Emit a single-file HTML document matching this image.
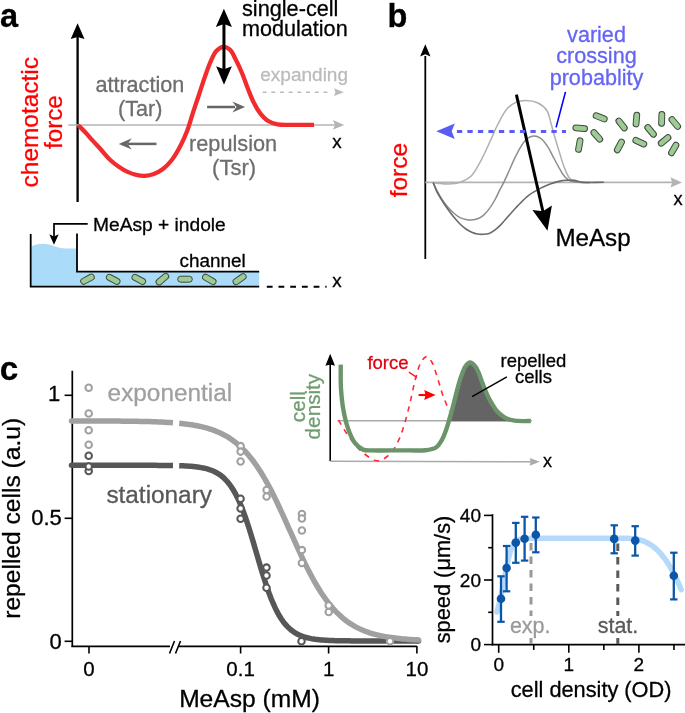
<!DOCTYPE html>
<html><head><meta charset="utf-8"><style>
html,body{margin:0;padding:0;background:#fff;width:685px;height:713px;overflow:hidden}
svg{display:block;will-change:transform}
text{font-family:"Liberation Sans", sans-serif}
</style></head><body>
<svg width="685" height="713" viewBox="0 0 685 713">
<text x="0" y="26.5" font-size="32.5" fill="#000" text-anchor="start" font-weight="bold" stroke="#000" stroke-width="0.3" stroke-linejoin="round">a</text>
<line x1="77.6" y1="202" x2="77.6" y2="36" stroke="#000" stroke-width="2.3"/>
<path d="M77.60,23.30 L84.50,39.10 L77.60,37.05 L70.70,39.10 Z" fill="#000"/>
<line x1="68.3" y1="125" x2="336" y2="125" stroke="#b4b4b4" stroke-width="1.6"/>
<path d="M344.20,124.90 L332.80,129.70 L335.08,124.90 L332.80,120.10 Z" fill="#b4b4b4"/>
<path d="M78.20,125.20 C80.63,127.63 83.13,129.98 85.50,132.50 C87.90,135.05 90.02,137.65 92.50,140.40 C95.25,143.46 98.38,146.78 101.30,150.00 C104.22,153.22 106.97,156.84 110.00,159.70 C112.82,162.36 115.79,164.63 118.80,166.70 C121.67,168.67 124.60,170.52 127.60,171.90 C130.44,173.21 133.35,174.25 136.30,174.90 C139.19,175.54 142.19,175.95 145.10,175.80 C148.02,175.65 150.96,175.03 153.80,174.00 C156.81,172.91 159.81,171.37 162.60,169.30 C165.71,166.99 168.66,163.95 171.40,160.50 C174.55,156.52 177.50,151.37 180.10,146.50 C182.74,141.55 185.01,136.43 187.10,131.00 C189.31,125.26 190.94,118.89 192.90,112.90 C194.84,106.96 196.84,101.11 198.80,95.20 C200.77,89.28 202.68,83.13 204.70,77.40 C206.61,71.98 208.46,66.39 210.60,61.70 C212.44,57.67 214.03,53.32 216.50,50.80 C218.48,48.79 221.10,47.02 223.40,46.90 C225.57,46.78 228.02,48.04 229.90,49.70 C232.29,51.80 233.80,55.89 235.70,59.50 C237.91,63.70 240.17,68.65 242.20,73.50 C244.32,78.57 246.07,84.23 248.10,89.30 C250.01,94.08 251.88,98.96 254.00,103.10 C255.85,106.72 257.58,109.94 259.90,112.90 C262.19,115.83 264.79,118.87 267.80,120.80 C270.71,122.66 273.88,123.69 277.60,124.40 C282.18,125.27 287.78,124.73 293.40,124.80 C299.83,124.88 307.20,124.80 314.10,124.80" fill="none" stroke="#f22b2e" stroke-width="4.3" stroke-linecap="butt" stroke-linejoin="round"/>
<text x="37.6" y="122.2" font-size="24.45" fill="#ff0000" text-anchor="middle" font-weight="normal" stroke="#ff0000" stroke-width="0.3" stroke-linejoin="round" transform="rotate(-90 37.6 122.2)">chemotactic</text>
<text x="62.2" y="122.1" font-size="24.2" fill="#ff0000" text-anchor="middle" font-weight="normal" stroke="#ff0000" stroke-width="0.3" stroke-linejoin="round" transform="rotate(-90 62.2 122.1)">force</text>
<text x="139.8" y="92" font-size="21.6" fill="#6e6e6e" text-anchor="middle" font-weight="normal" stroke="#6e6e6e" stroke-width="0.3" stroke-linejoin="round">attraction</text>
<text x="140.2" y="116.2" font-size="21.6" fill="#6e6e6e" text-anchor="middle" font-weight="normal" stroke="#6e6e6e" stroke-width="0.3" stroke-linejoin="round">(Tar)</text>
<text x="233.1" y="151.2" font-size="21.7" fill="#6e6e6e" text-anchor="middle" font-weight="normal" stroke="#6e6e6e" stroke-width="0.3" stroke-linejoin="round">repulsion</text>
<text x="234.1" y="175" font-size="22" fill="#6e6e6e" text-anchor="middle" font-weight="normal" stroke="#6e6e6e" stroke-width="0.3" stroke-linejoin="round">(Tsr)</text>
<line x1="156.5" y1="143.9" x2="128" y2="143.9" stroke="#666" stroke-width="2.5"/>
<path d="M118.80,143.90 L131.80,138.30 L127.51,143.90 L131.80,149.50 Z" fill="#666"/>
<line x1="207.1" y1="107" x2="235" y2="107" stroke="#666" stroke-width="2.5"/>
<path d="M245.10,107.00 L232.30,112.50 L236.52,107.00 L232.30,101.50 Z" fill="#666"/>
<line x1="223.95" y1="22" x2="223.95" y2="72" stroke="#000" stroke-width="3"/>
<path d="M223.90,8.80 L231.95,27.00 L223.90,23.91 L215.85,27.00 Z" fill="#000"/>
<path d="M224.00,84.70 L216.15,66.30 L224.00,69.24 L231.85,66.30 Z" fill="#000"/>
<text x="242" y="15.9" font-size="21.7" fill="#000" text-anchor="start" font-weight="normal" stroke="#000" stroke-width="0.3" stroke-linejoin="round">single-cell</text>
<text x="242" y="36.4" font-size="21.6" fill="#000" text-anchor="start" font-weight="normal" stroke="#000" stroke-width="0.3" stroke-linejoin="round">modulation</text>
<text x="260.3" y="80.6" font-size="19" fill="#bbb" text-anchor="start" font-weight="normal" stroke="#bbb" stroke-width="0.3" stroke-linejoin="round">expanding</text>
<line x1="262.6" y1="92.2" x2="328.5" y2="92.2" stroke="#bbb" stroke-width="1.6" stroke-dasharray="3.9 4.8"/>
<path d="M343.80,92.20 L334.00,96.10 L335.47,92.20 L334.00,88.30 Z" fill="#bbb"/>
<text x="332.3" y="147.8" font-size="18.8" fill="#000" text-anchor="start" font-weight="normal" stroke="#000" stroke-width="0.3" stroke-linejoin="round">x</text>
<path d="M31.5,246.5 C36,243.8 42,243 48,244.3 C54,245.8 58,248.2 66,248.5 L77,248.5 L77,272 L259.2,272 L259.2,286 L31.5,286 Z" fill="#aadcfa"/>
<path d="M30.7,234 L30.7,286.7 L259.2,286.7" fill="none" stroke="#000" stroke-width="1.8"/>
<path d="M77,233.6 L77,271.6 L259.2,271.6" fill="none" stroke="#000" stroke-width="1.8"/>
<path d="M87.7,223.8 L54,223.8 L54,237" fill="none" stroke="#000" stroke-width="1.7"/>
<path d="M54.00,244.80 L49.30,234.30 L54.00,236.61 L58.70,234.30 Z" fill="#000"/>
<text x="93" y="230.5" font-size="19.2" fill="#000" text-anchor="start" font-weight="normal" stroke="#000" stroke-width="0.3" stroke-linejoin="round">MeAsp + indole</text>
<text x="179.6" y="266.9" font-size="18.9" fill="#000" text-anchor="start" font-weight="normal" stroke="#000" stroke-width="0.3" stroke-linejoin="round">channel</text>
<rect x="80.20" y="276.20" width="14.60" height="6.00" rx="3.00" fill="#9ccb93" stroke="#404840" stroke-width="1" transform="rotate(-28 87.50 279.20)"/>
<rect x="105.90" y="276.40" width="14.60" height="6.00" rx="3.00" fill="#9ccb93" stroke="#404840" stroke-width="1" transform="rotate(28 113.20 279.40)"/>
<rect x="131.50" y="276.40" width="14.60" height="6.00" rx="3.00" fill="#9ccb93" stroke="#404840" stroke-width="1" transform="rotate(28 138.80 279.40)"/>
<rect x="155.10" y="276.20" width="14.60" height="6.00" rx="3.00" fill="#9ccb93" stroke="#404840" stroke-width="1" transform="rotate(-40 162.40 279.20)"/>
<rect x="177.70" y="276.20" width="14.60" height="6.00" rx="3.00" fill="#9ccb93" stroke="#404840" stroke-width="1" transform="rotate(0 185.00 279.20)"/>
<rect x="202.00" y="276.40" width="14.60" height="6.00" rx="3.00" fill="#9ccb93" stroke="#404840" stroke-width="1" transform="rotate(30 209.30 279.40)"/>
<rect x="232.30" y="276.20" width="14.60" height="6.00" rx="3.00" fill="#9ccb93" stroke="#404840" stroke-width="1" transform="rotate(-35 239.60 279.20)"/>
<line x1="266.8" y1="286.7" x2="326.6" y2="286.7" stroke="#000" stroke-width="1.9" stroke-dasharray="5.8 5.9"/>
<text x="332.3" y="287" font-size="18.8" fill="#000" text-anchor="start" font-weight="normal" stroke="#000" stroke-width="0.3" stroke-linejoin="round">x</text>
<text x="387.6" y="26.6" font-size="32.5" fill="#000" text-anchor="start" font-weight="bold" stroke="#000" stroke-width="0.3" stroke-linejoin="round">b</text>
<line x1="425.3" y1="259" x2="425.3" y2="56" stroke="#000" stroke-width="1.8"/>
<path d="M425.30,44.30 L430.50,56.50 L425.30,54.30 L420.10,56.50 Z" fill="#000"/>
<text x="407.5" y="170.1" font-size="24.5" fill="#ff0000" text-anchor="middle" font-weight="normal" stroke="#ff0000" stroke-width="0.3" stroke-linejoin="round" transform="rotate(-90 407.5 170.1)">force</text>
<line x1="425.3" y1="182.4" x2="673" y2="182.4" stroke="#b4b4b4" stroke-width="1.6"/>
<path d="M682.00,182.40 L670.40,187.50 L672.26,182.40 L670.40,177.30 Z" fill="#b4b4b4"/>
<path d="M433.20,182.60 C435.47,182.93 437.61,183.35 440.00,183.60 C442.65,183.87 445.77,184.12 448.40,184.10 C450.73,184.08 452.97,183.94 455.00,183.60 C456.80,183.30 458.29,182.90 460.00,182.30 C461.91,181.64 463.99,180.78 465.90,179.70 C467.90,178.57 469.79,177.61 471.70,175.60 C474.53,172.62 477.57,166.73 480.00,162.40 C482.22,158.44 483.89,154.71 485.80,150.70 C487.79,146.52 489.75,142.09 491.70,137.80 C493.65,133.53 495.18,129.46 497.50,125.00 C500.19,119.83 503.45,112.67 507.10,108.70 C509.93,105.62 513.13,103.46 516.40,102.10 C519.39,100.86 522.50,100.46 525.80,100.50 C529.49,100.55 534.01,101.14 537.50,102.80 C541.01,104.47 544.54,107.17 546.80,110.50 C549.25,114.11 549.86,119.55 551.20,124.00 C552.49,128.28 553.38,132.14 554.70,136.70 C556.25,142.08 558.39,149.01 560.00,154.20 C561.30,158.38 562.04,161.64 563.60,165.50 C565.35,169.82 567.13,176.02 570.20,178.80 C572.71,181.07 576.25,181.68 579.50,182.30 C582.84,182.94 586.50,182.43 590.00,182.50" fill="none" stroke="#b0b0b0" stroke-width="1.5"/>
<path d="M433.20,182.60 C434.37,185.13 435.31,187.54 436.70,190.20 C438.33,193.32 440.45,197.08 442.50,200.10 C444.37,202.87 446.37,205.40 448.40,207.70 C450.28,209.83 452.19,211.81 454.20,213.50 C456.07,215.08 457.98,216.61 460.00,217.60 C461.89,218.52 463.92,219.00 465.90,219.40 C467.82,219.79 469.77,220.09 471.70,220.00 C473.67,219.90 475.70,219.54 477.60,218.80 C479.61,218.02 481.57,216.81 483.40,215.30 C485.47,213.60 487.36,211.33 489.20,208.90 C491.29,206.15 493.33,202.67 495.10,199.50 C496.81,196.43 498.18,193.17 499.70,190.20 C501.11,187.42 502.46,185.14 503.90,182.20 C505.61,178.69 507.39,174.49 509.20,170.50 C511.09,166.33 512.99,161.78 515.00,157.70 C516.90,153.84 518.80,149.88 520.90,146.60 C522.73,143.74 524.40,140.77 526.70,139.00 C528.75,137.43 531.35,136.19 533.70,136.10 C536.02,136.01 538.55,136.96 540.70,138.40 C543.30,140.14 545.61,143.53 547.70,146.60 C549.95,149.91 551.58,153.96 553.60,157.70 C555.68,161.55 557.93,165.96 560.00,169.40 C561.71,172.24 563.12,175.02 565.00,177.00 C566.58,178.66 568.09,179.92 570.20,180.80 C572.75,181.86 576.30,182.01 579.50,182.30 C582.88,182.60 586.50,182.43 590.00,182.50" fill="none" stroke="#8c8c8c" stroke-width="1.5"/>
<path d="M433.20,182.60 C434.37,185.53 435.25,188.44 436.70,191.40 C438.29,194.66 440.50,198.14 442.50,201.30 C444.41,204.33 446.40,207.22 448.40,210.00 C450.31,212.65 452.22,215.21 454.20,217.60 C456.09,219.87 457.99,222.06 460.00,224.00 C461.90,225.84 463.87,227.60 465.90,229.00 C467.78,230.30 469.71,231.36 471.70,232.20 C473.62,233.01 475.62,233.65 477.60,234.00 C479.52,234.34 481.47,234.40 483.40,234.30 C485.34,234.20 487.32,234.07 489.20,233.40 C491.23,232.67 493.21,231.30 495.10,229.90 C497.12,228.40 499.17,226.35 500.90,224.60 C502.43,223.05 503.23,221.97 505.00,220.00 C508.19,216.43 514.20,209.41 518.50,205.00 C522.14,201.27 525.24,197.94 529.00,195.10 C532.65,192.34 536.95,190.03 540.70,188.10 C543.95,186.43 546.89,185.17 550.10,184.00 C553.32,182.83 557.09,181.72 560.00,181.10 C562.23,180.63 563.85,180.43 566.00,180.30 C568.47,180.15 571.29,180.11 574.00,180.40 C576.85,180.71 579.14,181.83 582.70,182.20 C588.21,182.78 596.90,182.27 604.00,182.30" fill="none" stroke="#6a6a6a" stroke-width="1.6"/>
<line x1="516.4" y1="94.7" x2="543.5" y2="214" stroke="#000" stroke-width="3"/>
<path d="M547.50,230.80 L532.41,210.08 L542.95,211.26 L551.89,205.55 Z" fill="#000"/>
<text x="555.4" y="245.7" font-size="24.2" fill="#000" text-anchor="start" font-weight="normal" stroke="#000" stroke-width="0.3" stroke-linejoin="round">MeAsp</text>
<text x="673.6" y="204.8" font-size="18.2" fill="#000" text-anchor="start" font-weight="normal" stroke="#000" stroke-width="0.3" stroke-linejoin="round">x</text>
<line x1="456.9" y1="131.4" x2="566" y2="131.4" stroke="#5b5bf5" stroke-width="3" stroke-dasharray="5.3 5.2"/>
<path d="M436.30,131.20 L454.80,123.45 L451.66,131.20 L454.80,138.95 Z" fill="#5b5bf5"/>
<line x1="565.5" y1="91.9" x2="556.1" y2="127.4" stroke="#0000ff" stroke-width="1.6"/>
<text x="596.5" y="42.4" font-size="21.6" fill="#6464f5" text-anchor="middle" font-weight="normal" stroke="#6464f5" stroke-width="0.3" stroke-linejoin="round">varied</text>
<text x="596.5" y="63.4" font-size="21.6" fill="#6464f5" text-anchor="middle" font-weight="normal" stroke="#6464f5" stroke-width="0.3" stroke-linejoin="round">crossing</text>
<text x="596.5" y="84.8" font-size="21.6" fill="#6464f5" text-anchor="middle" font-weight="normal" stroke="#6464f5" stroke-width="0.3" stroke-linejoin="round">probablity</text>
<rect x="572.90" y="125.30" width="14.60" height="5.80" rx="2.90" fill="#9ccb93" stroke="#404840" stroke-width="1" transform="rotate(5 580.20 128.20)"/>
<rect x="592.90" y="114.40" width="14.60" height="5.80" rx="2.90" fill="#9ccb93" stroke="#404840" stroke-width="1" transform="rotate(22 600.20 117.30)"/>
<rect x="589.50" y="133.00" width="14.60" height="5.80" rx="2.90" fill="#9ccb93" stroke="#404840" stroke-width="1" transform="rotate(48 596.80 135.90)"/>
<rect x="572.00" y="142.20" width="14.60" height="5.80" rx="2.90" fill="#9ccb93" stroke="#404840" stroke-width="1" transform="rotate(-80 579.30 145.10)"/>
<rect x="614.30" y="121.60" width="14.60" height="5.80" rx="2.90" fill="#9ccb93" stroke="#404840" stroke-width="1" transform="rotate(52 621.60 124.50)"/>
<rect x="629.10" y="116.70" width="14.60" height="5.80" rx="2.90" fill="#9ccb93" stroke="#404840" stroke-width="1" transform="rotate(-85 636.40 119.60)"/>
<rect x="612.10" y="143.10" width="14.60" height="5.80" rx="2.90" fill="#9ccb93" stroke="#404840" stroke-width="1" transform="rotate(-62 619.40 146.00)"/>
<rect x="632.50" y="139.30" width="14.60" height="5.80" rx="2.90" fill="#9ccb93" stroke="#404840" stroke-width="1" transform="rotate(25 639.80 142.20)"/>
<rect x="643.30" y="128.00" width="14.60" height="5.80" rx="2.90" fill="#9ccb93" stroke="#404840" stroke-width="1" transform="rotate(50 650.60 130.90)"/>
<rect x="654.40" y="116.00" width="14.60" height="5.80" rx="2.90" fill="#9ccb93" stroke="#404840" stroke-width="1" transform="rotate(-88 661.70 118.90)"/>
<rect x="667.50" y="120.10" width="14.60" height="5.80" rx="2.90" fill="#9ccb93" stroke="#404840" stroke-width="1" transform="rotate(50 674.80 123.00)"/>
<rect x="657.30" y="137.50" width="14.60" height="5.80" rx="2.90" fill="#9ccb93" stroke="#404840" stroke-width="1" transform="rotate(-40 664.60 140.40)"/>
<rect x="666.40" y="146.10" width="14.60" height="5.80" rx="2.90" fill="#9ccb93" stroke="#404840" stroke-width="1" transform="rotate(-60 673.70 149.00)"/>
<text x="-0.3" y="379.9" font-size="33.3" fill="#000" text-anchor="start" font-weight="bold" stroke="#000" stroke-width="0.3" stroke-linejoin="round">c</text>
<line x1="72.3" y1="370.8" x2="72.3" y2="647.1" stroke="#000" stroke-width="1.7"/>
<line x1="71.5" y1="646.3" x2="170" y2="646.3" stroke="#000" stroke-width="1.7"/>
<line x1="179" y1="646.3" x2="416.9" y2="646.3" stroke="#000" stroke-width="1.7"/>
<line x1="169.5" y1="653.5" x2="174.5" y2="641" stroke="#000" stroke-width="1.6"/>
<line x1="175.5" y1="653.5" x2="180.5" y2="641" stroke="#000" stroke-width="1.6"/>
<line x1="64.6" y1="395.3" x2="72.3" y2="395.3" stroke="#000" stroke-width="1.6"/>
<text x="60.2" y="400.7" font-size="22" fill="#000" text-anchor="end" font-weight="normal" stroke="#000" stroke-width="0.3" stroke-linejoin="round">1</text>
<line x1="64.6" y1="518.3" x2="72.3" y2="518.3" stroke="#000" stroke-width="1.6"/>
<text x="61.8" y="525" font-size="22" fill="#000" text-anchor="end" font-weight="normal" stroke="#000" stroke-width="0.3" stroke-linejoin="round">0.5</text>
<line x1="64.6" y1="641.3" x2="72.3" y2="641.3" stroke="#000" stroke-width="1.6"/>
<text x="61.8" y="648.5" font-size="22" fill="#000" text-anchor="end" font-weight="normal" stroke="#000" stroke-width="0.3" stroke-linejoin="round">0</text>
<line x1="89" y1="646" x2="89" y2="653.5" stroke="#000" stroke-width="1.6"/>
<text x="89" y="676.3" font-size="20.5" fill="#000" text-anchor="middle" font-weight="normal" stroke="#000" stroke-width="0.3" stroke-linejoin="round">0</text>
<line x1="240.6" y1="646" x2="240.6" y2="653.5" stroke="#000" stroke-width="1.6"/>
<text x="240.6" y="676.3" font-size="20.5" fill="#000" text-anchor="middle" font-weight="normal" stroke="#000" stroke-width="0.3" stroke-linejoin="round">0.1</text>
<line x1="328.6" y1="646" x2="328.6" y2="653.5" stroke="#000" stroke-width="1.6"/>
<text x="328.6" y="676.3" font-size="20.5" fill="#000" text-anchor="middle" font-weight="normal" stroke="#000" stroke-width="0.3" stroke-linejoin="round">1</text>
<line x1="416.9" y1="646" x2="416.9" y2="653.5" stroke="#000" stroke-width="1.6"/>
<text x="416.9" y="676.3" font-size="20.5" fill="#000" text-anchor="middle" font-weight="normal" stroke="#000" stroke-width="0.3" stroke-linejoin="round">10</text>
<text x="249.5" y="706.9" font-size="24.6" fill="#000" text-anchor="middle" font-weight="normal" stroke="#000" stroke-width="0.3" stroke-linejoin="round">MeAsp (mM)</text>
<text x="20.2" y="518.3" font-size="24.6" fill="#000" text-anchor="middle" font-weight="normal" stroke="#000" stroke-width="0.3" stroke-linejoin="round" transform="rotate(-90 20.2 518.3)">repelled cells (a.u)</text>
<path d="M179.20,465.72 L181.20,465.79 L183.20,465.87 L185.20,465.97 L187.20,466.08 L189.20,466.21 L191.20,466.36 L193.20,466.54 L195.20,466.75 L197.20,466.99 L199.20,467.28 L201.20,467.61 L203.20,467.99 L205.20,468.44 L207.20,468.96 L209.20,469.56 L211.20,470.26 L213.20,471.07 L215.20,472.01 L217.20,473.09 L219.20,474.34 L221.20,475.78 L223.20,477.43 L225.20,479.32 L227.20,481.47 L229.20,483.92 L231.20,486.68 L233.20,489.79 L235.20,493.27 L237.20,497.15 L239.20,501.43 L241.20,506.12 L243.20,511.22 L245.20,516.71 L247.20,522.57 L249.20,528.76 L251.20,535.22 L253.20,541.89 L255.20,548.69 L257.20,555.55 L259.20,562.38 L261.20,569.10 L263.20,575.63 L265.20,581.91 L267.20,587.87 L269.20,593.48 L271.20,598.70 L273.20,603.51 L275.20,607.91 L277.20,611.91 L279.20,615.50 L281.20,618.72 L283.20,621.59 L285.20,624.13 L287.20,626.37 L289.20,628.33 L291.20,630.05 L293.20,631.55 L295.20,632.85 L297.20,633.98 L299.20,634.96 L301.20,635.81 L303.20,636.54 L305.20,637.17 L307.20,637.72 L309.20,638.18 L311.20,638.59 L313.20,638.93 L315.20,639.23 L317.20,639.48 L319.20,639.70 L321.20,639.89 L323.20,640.05 L325.20,640.18 L327.20,640.30 L329.20,640.40 L331.20,640.49 L333.20,640.56 L335.20,640.63 L337.20,640.68 L339.20,640.73 L341.20,640.77 L343.20,640.80 L345.20,640.83 L347.20,640.85 L349.20,640.87 L351.20,640.89 L353.20,640.91 L355.20,640.92 L357.20,640.93 L359.20,640.94 L361.20,640.95 L363.20,640.96 L365.20,640.96 L367.20,640.97 L369.20,640.97 L371.20,640.98 L373.20,640.98 L375.20,640.98 L377.20,640.99 L379.20,640.99 L381.20,640.99 L383.20,640.99 L385.20,640.99 L387.20,640.99 L389.20,640.99 L391.20,641.00 L393.20,641.00 L395.20,641.00 L397.20,641.00 L399.20,641.00 L401.20,641.00 L403.20,641.00 L405.20,641.00 L407.20,641.00 L409.20,641.00 L411.20,641.00 L413.20,641.00 L415.20,641.00 L417.20,641.00 L418.50,641.00" fill="none" stroke="#575757" stroke-width="5.5" stroke-linecap="butt"/>
<circle cx="418.50" cy="641.00" r="2.75" fill="#575757"/>
<path d="M71.50,465.30 L74.50,465.30 L77.50,465.30 L80.50,465.30 L83.50,465.30 L86.50,465.30 L89.50,465.30 L92.50,465.30 L95.50,465.30 L98.50,465.30 L101.50,465.30 L104.50,465.30 L107.50,465.30 L110.50,465.30 L113.50,465.30 L116.50,465.30 L119.50,465.30 L122.50,465.30 L125.50,465.31 L128.50,465.31 L131.50,465.31 L134.50,465.31 L137.50,465.32 L140.50,465.32 L143.50,465.33 L146.50,465.33 L149.50,465.34 L152.50,465.35 L155.50,465.37 L158.50,465.38 L161.50,465.41 L164.50,465.43 L167.50,465.47 L170.50,465.51 L173.00,465.56" fill="none" stroke="#575757" stroke-width="5.5" stroke-linecap="butt"/>
<circle cx="71.5" cy="465.30" r="2.75" fill="#575757"/>
<path d="M179.20,423.29 L181.20,423.49 L183.20,423.70 L185.20,423.94 L187.20,424.19 L189.20,424.47 L191.20,424.77 L193.20,425.09 L195.20,425.43 L197.20,425.81 L199.20,426.22 L201.20,426.66 L203.20,427.13 L205.20,427.64 L207.20,428.20 L209.20,428.79 L211.20,429.44 L213.20,430.13 L215.20,430.88 L217.20,431.68 L219.20,432.55 L221.20,433.48 L223.20,434.48 L225.20,435.55 L227.20,436.71 L229.20,437.94 L231.20,439.27 L233.20,440.69 L235.20,442.20 L237.20,443.82 L239.20,445.55 L241.20,447.38 L243.20,449.34 L245.20,451.42 L247.20,453.62 L249.20,455.95 L251.20,458.42 L253.20,461.02 L255.20,463.76 L257.20,466.64 L259.20,469.66 L261.20,472.82 L263.20,476.12 L265.20,479.56 L267.20,483.13 L269.20,486.82 L271.20,490.64 L273.20,494.58 L275.20,498.62 L277.20,502.76 L279.20,506.99 L281.20,511.30 L283.20,515.66 L285.20,520.08 L287.20,524.53 L289.20,529.01 L291.20,533.49 L293.20,537.96 L295.20,542.41 L297.20,546.82 L299.20,551.18 L301.20,555.48 L303.20,559.70 L305.20,563.83 L307.20,567.86 L309.20,571.78 L311.20,575.59 L313.20,579.27 L315.20,582.83 L317.20,586.25 L319.20,589.53 L321.20,592.68 L323.20,595.68 L325.20,598.54 L327.20,601.27 L329.20,603.86 L331.20,606.31 L333.20,608.63 L335.20,610.82 L337.20,612.88 L339.20,614.82 L341.20,616.65 L343.20,618.36 L345.20,619.97 L347.20,621.47 L349.20,622.88 L351.20,624.20 L353.20,625.42 L355.20,626.57 L357.20,627.64 L359.20,628.63 L361.20,629.55 L363.20,630.41 L365.20,631.21 L367.20,631.95 L369.20,632.64 L371.20,633.28 L373.20,633.87 L375.20,634.42 L377.20,634.92 L379.20,635.39 L381.20,635.83 L383.20,636.23 L385.20,636.61 L387.20,636.95 L389.20,637.27 L391.20,637.56 L393.20,637.84 L395.20,638.09 L397.20,638.32 L399.20,638.53 L401.20,638.73 L403.20,638.92 L405.20,639.09 L407.20,639.24 L409.20,639.39 L411.20,639.52 L413.20,639.64 L415.20,639.75 L417.20,639.86 L418.50,639.92" fill="none" stroke="#a0a0a0" stroke-width="5.5" stroke-linecap="butt"/>
<circle cx="418.50" cy="639.92" r="2.75" fill="#a0a0a0"/>
<path d="M71.50,420.93 L74.50,420.93 L77.50,420.94 L80.50,420.94 L83.50,420.95 L86.50,420.96 L89.50,420.96 L92.50,420.97 L95.50,420.98 L98.50,420.99 L101.50,421.00 L104.50,421.02 L107.50,421.03 L110.50,421.05 L113.50,421.07 L116.50,421.09 L119.50,421.11 L122.50,421.14 L125.50,421.17 L128.50,421.21 L131.50,421.25 L134.50,421.29 L137.50,421.34 L140.50,421.40 L143.50,421.46 L146.50,421.54 L149.50,421.62 L152.50,421.71 L155.50,421.82 L158.50,421.93 L161.50,422.07 L164.50,422.22 L167.50,422.39 L170.50,422.58 L173.00,422.76" fill="none" stroke="#a0a0a0" stroke-width="5.5" stroke-linecap="butt"/>
<circle cx="71.5" cy="420.93" r="2.75" fill="#a0a0a0"/>
<text x="107.6" y="401.3" font-size="24.35" fill="#a0a0a0" text-anchor="start" font-weight="normal" stroke="#a0a0a0" stroke-width="0.3" stroke-linejoin="round">exponential</text>
<text x="106.4" y="502.5" font-size="24.35" fill="#575757" text-anchor="start" font-weight="normal" stroke="#575757" stroke-width="0.3" stroke-linejoin="round">stationary</text>
<circle cx="88.70" cy="455.80" r="3.25" fill="#fff" stroke="#575757" stroke-width="2.05"/>
<circle cx="88.70" cy="470.90" r="3.25" fill="#fff" stroke="#575757" stroke-width="2.05"/>
<circle cx="88.70" cy="466.50" r="3.25" fill="#fff" stroke="#575757" stroke-width="2.05"/>
<circle cx="240.60" cy="498.70" r="3.25" fill="#fff" stroke="#575757" stroke-width="2.05"/>
<circle cx="240.60" cy="508.50" r="3.25" fill="#fff" stroke="#575757" stroke-width="2.05"/>
<circle cx="240.60" cy="518.80" r="3.25" fill="#fff" stroke="#575757" stroke-width="2.05"/>
<circle cx="266.50" cy="567.60" r="3.25" fill="#fff" stroke="#575757" stroke-width="2.05"/>
<circle cx="266.50" cy="575.50" r="3.25" fill="#fff" stroke="#575757" stroke-width="2.05"/>
<circle cx="266.50" cy="587.70" r="3.25" fill="#fff" stroke="#575757" stroke-width="2.05"/>
<circle cx="301.50" cy="641.20" r="3.25" fill="#fff" stroke="#575757" stroke-width="2.05"/>
<circle cx="88.70" cy="387.70" r="3.25" fill="#fff" stroke="#a0a0a0" stroke-width="2.05"/>
<circle cx="88.70" cy="413.40" r="3.25" fill="#fff" stroke="#a0a0a0" stroke-width="2.05"/>
<circle cx="88.70" cy="430.30" r="3.25" fill="#fff" stroke="#a0a0a0" stroke-width="2.05"/>
<circle cx="88.70" cy="444.80" r="3.25" fill="#fff" stroke="#a0a0a0" stroke-width="2.05"/>
<circle cx="240.60" cy="446.10" r="3.25" fill="#fff" stroke="#a0a0a0" stroke-width="2.05"/>
<circle cx="240.60" cy="451.60" r="3.25" fill="#fff" stroke="#a0a0a0" stroke-width="2.05"/>
<circle cx="240.60" cy="461.50" r="3.25" fill="#fff" stroke="#a0a0a0" stroke-width="2.05"/>
<circle cx="266.60" cy="489.90" r="3.25" fill="#fff" stroke="#a0a0a0" stroke-width="2.05"/>
<circle cx="266.60" cy="496.50" r="3.25" fill="#fff" stroke="#a0a0a0" stroke-width="2.05"/>
<circle cx="301.90" cy="514.00" r="3.25" fill="#fff" stroke="#a0a0a0" stroke-width="2.05"/>
<circle cx="301.90" cy="518.40" r="3.25" fill="#fff" stroke="#a0a0a0" stroke-width="2.05"/>
<circle cx="301.90" cy="530.50" r="3.25" fill="#fff" stroke="#a0a0a0" stroke-width="2.05"/>
<circle cx="301.90" cy="550.10" r="3.25" fill="#fff" stroke="#a0a0a0" stroke-width="2.05"/>
<circle cx="301.90" cy="562.90" r="3.25" fill="#fff" stroke="#a0a0a0" stroke-width="2.05"/>
<circle cx="328.70" cy="605.50" r="3.25" fill="#fff" stroke="#a0a0a0" stroke-width="2.05"/>
<circle cx="328.70" cy="612.00" r="3.25" fill="#fff" stroke="#a0a0a0" stroke-width="2.05"/>
<circle cx="390.00" cy="641.20" r="3.25" fill="#fff" stroke="#a0a0a0" stroke-width="2.05"/>
<line x1="330.2" y1="461.1" x2="330.2" y2="364" stroke="#000" stroke-width="1.6"/>
<path d="M330.20,353.80 L335.00,365.80 L330.20,364.60 L325.40,365.80 Z" fill="#000"/>
<line x1="330.2" y1="461.3" x2="531" y2="461.8" stroke="#aaa" stroke-width="1.5"/>
<path d="M539.70,461.80 L529.70,465.70 L530.70,461.80 L529.70,457.90 Z" fill="#aaa"/>
<text x="543" y="466.5" font-size="18" fill="#000" text-anchor="start" font-weight="normal" stroke="#000" stroke-width="0.3" stroke-linejoin="round">x</text>
<line x1="337.5" y1="420.8" x2="532" y2="420.8" stroke="#aaa" stroke-width="1.5"/>
<path d="M449.00,421.20 C449.10,420.63 449.11,420.32 449.30,419.50 C449.82,417.24 451.69,411.42 452.90,406.90 C454.29,401.69 455.63,395.35 457.10,390.00 C458.44,385.10 459.77,380.21 461.30,376.00 C462.61,372.40 463.74,368.55 465.50,366.20 C466.80,364.46 468.41,362.54 470.00,362.50 C471.73,362.46 474.05,364.88 475.50,366.60 C476.97,368.34 477.71,370.61 478.70,372.90 C479.83,375.49 480.75,378.59 481.80,381.40 C482.85,384.19 483.91,387.02 485.00,389.70 C486.04,392.25 486.99,394.67 488.20,397.10 C489.45,399.60 490.96,402.16 492.40,404.50 C493.76,406.71 495.00,408.94 496.60,410.80 C498.14,412.59 499.99,414.16 501.80,415.50 C503.50,416.76 505.12,417.87 507.10,418.70 C509.30,419.62 512.98,420.10 514.50,420.60 C515.20,420.83 515.50,421.00 516.00,421.20 Z" fill="#646464"/>
<path d="M338.40,420.10 C342.20,426.07 345.70,432.54 349.80,438.00 C353.64,443.11 357.37,448.18 362.10,452.00 C366.76,455.76 372.97,460.82 377.90,460.80 C382.26,460.78 386.78,457.10 390.20,453.80 C393.90,450.23 396.40,445.03 398.90,439.70 C401.80,433.54 403.94,425.75 406.00,418.70 C408.04,411.72 409.57,404.48 411.20,397.60 C412.76,391.03 413.89,384.37 415.60,378.30 C417.17,372.73 418.60,366.32 420.90,362.50 C422.51,359.83 424.65,356.62 426.50,356.60 C428.28,356.59 430.32,359.68 431.80,362.00 C433.66,364.91 434.71,369.45 436.00,373.20 C437.28,376.92 438.34,380.66 439.50,384.40 C440.67,388.16 441.56,391.68 443.00,395.70 C444.71,400.47 447.20,405.97 449.30,411.10" fill="none" stroke="#ff2a35" stroke-width="1.6" stroke-dasharray="5.4 5.4"/>
<path d="M340.70,364.60 C340.80,372.70 340.48,380.94 341.00,388.90 C341.50,396.63 342.30,404.46 343.70,411.70 C345.00,418.45 346.75,425.40 348.90,431.00 C350.68,435.64 352.50,439.99 355.10,443.20 C357.34,445.97 360.08,448.42 363.00,449.60 C365.75,450.71 368.48,450.24 372.00,450.40 C376.97,450.62 383.84,450.40 390.00,450.40 C396.49,450.40 403.81,450.42 410.00,450.40 C415.36,450.38 420.42,450.89 425.00,450.30 C428.98,449.79 433.16,449.33 436.00,447.50 C438.52,445.87 440.01,443.15 441.60,440.50 C443.33,437.61 444.54,434.11 445.80,430.70 C447.12,427.12 448.15,423.35 449.30,419.50 C450.52,415.43 451.69,411.42 452.90,406.90 C454.29,401.69 455.63,395.35 457.10,390.00 C458.44,385.10 459.77,380.21 461.30,376.00 C462.61,372.40 463.74,368.55 465.50,366.20 C466.80,364.46 468.41,362.54 470.00,362.50 C471.73,362.46 474.05,364.88 475.50,366.60 C476.97,368.34 477.71,370.61 478.70,372.90 C479.83,375.49 480.75,378.59 481.80,381.40 C482.85,384.19 483.91,387.02 485.00,389.70 C486.04,392.25 486.99,394.67 488.20,397.10 C489.45,399.60 490.96,402.16 492.40,404.50 C493.76,406.71 495.00,408.94 496.60,410.80 C498.14,412.59 499.99,414.16 501.80,415.50 C503.50,416.76 505.12,417.87 507.10,418.70 C509.30,419.62 511.94,420.20 514.50,420.60 C517.19,421.02 520.14,421.04 522.90,421.10 C525.57,421.16 528.17,421.03 530.80,421.00" fill="none" stroke="#6b946b" stroke-width="4.4" stroke-linejoin="round"/>
<text x="388" y="369.4" font-size="18.5" fill="#e00012" text-anchor="middle" font-weight="normal" stroke="#e00012" stroke-width="0.3" stroke-linejoin="round">force</text>
<line x1="408.9" y1="372.2" x2="417" y2="377.6" stroke="#ff1f2a" stroke-width="1.5"/>
<line x1="418.6" y1="395" x2="427" y2="395" stroke="#f00" stroke-width="2.1"/>
<path d="M435.60,394.90 L424.20,399.90 L425.57,394.90 L424.20,389.90 Z" fill="#f00"/>
<line x1="472.1" y1="396.6" x2="506.9" y2="376.9" stroke="#000" stroke-width="1.5"/>
<text x="533.4" y="367.3" font-size="18.5" fill="#000" text-anchor="middle" font-weight="normal" stroke="#000" stroke-width="0.3" stroke-linejoin="round">repelled</text>
<text x="533.4" y="382.7" font-size="18.5" fill="#000" text-anchor="middle" font-weight="normal" stroke="#000" stroke-width="0.3" stroke-linejoin="round">cells</text>
<text x="304.8" y="406.6" font-size="20.7" fill="#6f9d6f" text-anchor="middle" font-weight="normal" stroke="#6f9d6f" stroke-width="0.3" stroke-linejoin="round" transform="rotate(-90 304.8 406.6)">cell</text>
<text x="320" y="406.6" font-size="20.7" fill="#6f9d6f" text-anchor="middle" font-weight="normal" stroke="#6f9d6f" stroke-width="0.3" stroke-linejoin="round" transform="rotate(-90 320 406.6)">density</text>
<line x1="492.5" y1="514.2" x2="492.5" y2="645.4" stroke="#000" stroke-width="1.7"/>
<line x1="491.7" y1="644.6" x2="685" y2="644.6" stroke="#000" stroke-width="1.7"/>
<line x1="484" y1="644.60" x2="492.5" y2="644.60" stroke="#000" stroke-width="1.6"/>
<text x="481" y="651.4" font-size="19" fill="#000" text-anchor="end" font-weight="normal" stroke="#000" stroke-width="0.3" stroke-linejoin="round">0</text>
<line x1="484" y1="580.00" x2="492.5" y2="580.00" stroke="#000" stroke-width="1.6"/>
<text x="481" y="586.8" font-size="19" fill="#000" text-anchor="end" font-weight="normal" stroke="#000" stroke-width="0.3" stroke-linejoin="round">20</text>
<line x1="484" y1="515.40" x2="492.5" y2="515.40" stroke="#000" stroke-width="1.6"/>
<text x="481" y="522.2" font-size="19" fill="#000" text-anchor="end" font-weight="normal" stroke="#000" stroke-width="0.3" stroke-linejoin="round">40</text>
<line x1="488.2" y1="612.30" x2="492.5" y2="612.30" stroke="#000" stroke-width="1.6"/>
<line x1="488.2" y1="547.70" x2="492.5" y2="547.70" stroke="#000" stroke-width="1.6"/>
<line x1="498.70" y1="644.6" x2="498.70" y2="652.8" stroke="#000" stroke-width="1.6"/>
<text x="498.7" y="670.6" font-size="19" fill="#000" text-anchor="middle" font-weight="normal" stroke="#000" stroke-width="0.3" stroke-linejoin="round">0</text>
<line x1="568.80" y1="644.6" x2="568.80" y2="652.8" stroke="#000" stroke-width="1.6"/>
<text x="568.8" y="670.6" font-size="19" fill="#000" text-anchor="middle" font-weight="normal" stroke="#000" stroke-width="0.3" stroke-linejoin="round">1</text>
<line x1="638.90" y1="644.6" x2="638.90" y2="652.8" stroke="#000" stroke-width="1.6"/>
<text x="638.9" y="670.6" font-size="19" fill="#000" text-anchor="middle" font-weight="normal" stroke="#000" stroke-width="0.3" stroke-linejoin="round">2</text>
<line x1="533.75" y1="644.6" x2="533.75" y2="649.9" stroke="#000" stroke-width="1.6"/>
<line x1="603.85" y1="644.6" x2="603.85" y2="649.9" stroke="#000" stroke-width="1.6"/>
<line x1="673.95" y1="644.6" x2="673.95" y2="649.9" stroke="#000" stroke-width="1.6"/>
<text x="591.1" y="696.8" font-size="21.75" fill="#000" text-anchor="middle" font-weight="normal" stroke="#000" stroke-width="0.3" stroke-linejoin="round">cell density (OD)</text>
<text x="450.2" y="579.5" font-size="21.8" fill="#000" text-anchor="middle" font-weight="normal" stroke="#000" stroke-width="0.3" stroke-linejoin="round" transform="rotate(-90 450.2 579.5)">speed (μm/s)</text>
<line x1="531" y1="543" x2="531" y2="644" stroke="#999" stroke-width="3" stroke-dasharray="7.5 6"/>
<line x1="617.8" y1="543.4" x2="617.8" y2="644" stroke="#5a5a5a" stroke-width="3" stroke-dasharray="7.5 6"/>
<rect x="509" y="616" width="43" height="22" fill="#fff"/>
<rect x="597" y="616" width="43" height="22" fill="#fff"/>
<text x="530.2" y="632.5" font-size="21.5" fill="#9a9a9a" text-anchor="middle" font-weight="normal" stroke="#9a9a9a" stroke-width="0.3" stroke-linejoin="round">exp.</text>
<text x="618" y="632.5" font-size="21.5" fill="#5a5a5a" text-anchor="middle" font-weight="normal" stroke="#5a5a5a" stroke-width="0.3" stroke-linejoin="round">stat.</text>
<path d="M497.00,612.00 C498.33,606.67 499.82,601.31 501.00,596.00 C502.15,590.81 502.98,585.64 504.00,580.50 C505.01,575.41 506.02,570.24 507.10,565.30 C508.13,560.58 508.98,555.49 510.30,551.50 C511.37,548.27 512.31,545.06 514.00,543.00 C515.37,541.33 517.03,540.27 519.00,539.50 C521.27,538.61 524.33,538.62 527.00,538.40 C529.66,538.18 532.65,538.23 535.00,538.20 C536.86,538.18 538.55,538.20 540.00,538.20 C541.13,538.20 542.00,538.20 543.00,538.20 C544.00,538.20 545.00,538.20 546.00,538.20 C547.00,538.20 548.00,538.20 549.00,538.20 C550.00,538.20 551.00,538.20 552.00,538.20 C553.00,538.20 554.00,538.20 555.00,538.20 C556.00,538.20 557.00,538.20 558.00,538.20 C559.00,538.20 560.00,538.20 561.00,538.20 C562.00,538.20 563.00,538.20 564.00,538.20 C565.00,538.20 566.00,538.20 567.00,538.20 C568.00,538.20 569.00,538.20 570.00,538.20 C571.00,538.20 572.00,538.20 573.00,538.20 C574.00,538.20 575.00,538.20 576.00,538.20 C577.00,538.20 578.00,538.20 579.00,538.20 C580.00,538.20 581.00,538.20 582.00,538.20 C583.00,538.20 584.00,538.20 585.00,538.20 C586.00,538.20 587.00,538.20 588.00,538.20 C589.00,538.20 590.00,538.20 591.00,538.20 C592.00,538.20 593.00,538.20 594.00,538.20 C595.00,538.20 596.00,538.20 597.00,538.20 C598.00,538.20 599.00,538.20 600.00,538.20 C601.00,538.20 602.00,538.20 603.00,538.20 C604.00,538.20 605.00,538.20 606.00,538.20 C607.00,538.20 608.00,538.20 609.00,538.20 C610.00,538.20 611.00,538.20 612.00,538.20 C613.00,538.20 614.00,538.20 615.00,538.20 C616.00,538.20 617.00,538.20 618.00,538.20 C619.00,538.20 620.00,538.20 621.00,538.20 C622.00,538.20 623.00,538.20 624.00,538.20 C625.00,538.21 626.00,538.22 627.00,538.25 C628.00,538.28 629.00,538.31 630.00,538.38 C631.00,538.45 632.00,538.53 633.00,538.64 C634.00,538.76 635.00,538.89 636.00,539.07 C637.00,539.25 638.00,539.46 639.00,539.71 C640.00,539.96 641.01,540.25 642.00,540.59 C643.01,540.93 644.01,541.31 645.00,541.75 C646.01,542.19 647.01,542.68 648.00,543.22 C649.01,543.77 650.01,544.38 651.00,545.04 C652.02,545.71 653.02,546.45 654.00,547.23 C655.02,548.04 656.02,548.92 657.00,549.84 C658.02,550.80 659.02,551.82 660.00,552.89 C661.02,554.00 662.02,555.18 663.00,556.42 C664.02,557.70 665.02,559.05 666.00,560.45 C667.02,561.91 668.02,563.43 669.00,565.01 C670.02,566.66 671.02,568.38 672.00,570.15 C673.02,572.00 674.02,573.91 675.00,575.88 C676.02,577.93 677.02,580.06 678.00,582.24 C679.02,584.51 680.59,588.27 681.00,589.25 C681.11,589.51 681.13,589.58 681.20,589.74" fill="none" stroke="#b5d9fb" stroke-width="5.5" stroke-linecap="round"/>
<line x1="501.00" y1="576.30" x2="501.00" y2="621.80" stroke="#0b56a8" stroke-width="2.3"/>
<line x1="497.30" y1="576.30" x2="504.70" y2="576.30" stroke="#0b56a8" stroke-width="2.2"/>
<line x1="497.30" y1="621.80" x2="504.70" y2="621.80" stroke="#0b56a8" stroke-width="2.2"/>
<circle cx="501.00" cy="598.70" r="4.3" fill="#0b56a8"/>
<line x1="506.60" y1="546.00" x2="506.60" y2="591.30" stroke="#0b56a8" stroke-width="2.3"/>
<line x1="502.90" y1="546.00" x2="510.30" y2="546.00" stroke="#0b56a8" stroke-width="2.2"/>
<line x1="502.90" y1="591.30" x2="510.30" y2="591.30" stroke="#0b56a8" stroke-width="2.2"/>
<circle cx="506.60" cy="568.00" r="4.3" fill="#0b56a8"/>
<line x1="515.80" y1="522.90" x2="515.80" y2="562.80" stroke="#0b56a8" stroke-width="2.3"/>
<line x1="512.10" y1="522.90" x2="519.50" y2="522.90" stroke="#0b56a8" stroke-width="2.2"/>
<line x1="512.10" y1="562.80" x2="519.50" y2="562.80" stroke="#0b56a8" stroke-width="2.2"/>
<circle cx="515.80" cy="542.60" r="4.3" fill="#0b56a8"/>
<line x1="524.60" y1="516.80" x2="524.60" y2="560.60" stroke="#0b56a8" stroke-width="2.3"/>
<line x1="520.90" y1="516.80" x2="528.30" y2="516.80" stroke="#0b56a8" stroke-width="2.2"/>
<line x1="520.90" y1="560.60" x2="528.30" y2="560.60" stroke="#0b56a8" stroke-width="2.2"/>
<circle cx="524.60" cy="538.80" r="4.3" fill="#0b56a8"/>
<line x1="535.80" y1="517.50" x2="535.80" y2="552.30" stroke="#0b56a8" stroke-width="2.3"/>
<line x1="532.10" y1="517.50" x2="539.50" y2="517.50" stroke="#0b56a8" stroke-width="2.2"/>
<line x1="532.10" y1="552.30" x2="539.50" y2="552.30" stroke="#0b56a8" stroke-width="2.2"/>
<circle cx="535.80" cy="534.80" r="4.3" fill="#0b56a8"/>
<line x1="614.20" y1="525.30" x2="614.20" y2="553.30" stroke="#0b56a8" stroke-width="2.3"/>
<line x1="610.50" y1="525.30" x2="617.90" y2="525.30" stroke="#0b56a8" stroke-width="2.2"/>
<line x1="610.50" y1="553.30" x2="617.90" y2="553.30" stroke="#0b56a8" stroke-width="2.2"/>
<circle cx="614.20" cy="538.90" r="4.3" fill="#0b56a8"/>
<line x1="635.20" y1="526.20" x2="635.20" y2="555.60" stroke="#0b56a8" stroke-width="2.3"/>
<line x1="631.50" y1="526.20" x2="638.90" y2="526.20" stroke="#0b56a8" stroke-width="2.2"/>
<line x1="631.50" y1="555.60" x2="638.90" y2="555.60" stroke="#0b56a8" stroke-width="2.2"/>
<circle cx="635.20" cy="540.60" r="4.3" fill="#0b56a8"/>
<line x1="673.80" y1="552.70" x2="673.80" y2="599.40" stroke="#0b56a8" stroke-width="2.3"/>
<line x1="670.10" y1="552.70" x2="677.50" y2="552.70" stroke="#0b56a8" stroke-width="2.2"/>
<line x1="670.10" y1="599.40" x2="677.50" y2="599.40" stroke="#0b56a8" stroke-width="2.2"/>
<circle cx="673.80" cy="575.80" r="4.3" fill="#0b56a8"/>
</svg>
</body></html>
